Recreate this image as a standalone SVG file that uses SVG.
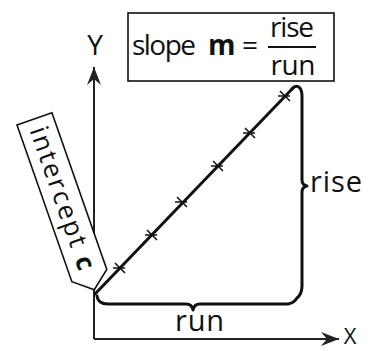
<svg xmlns="http://www.w3.org/2000/svg" width="372" height="351" viewBox="0 0 372 351">
<defs>
<marker id="arr" markerUnits="userSpaceOnUse" markerWidth="20" markerHeight="16" refX="18" refY="7" orient="auto">
<path d="M0,0 L18,7 L0,14 L6,7 Z" fill="#222"/>
</marker>
<style>
.t{font-family:"Open Sans","DejaVu Sans",sans-serif;fill:#111}
.ax{stroke:#222;stroke-width:2;fill:none}
.br{stroke:#111;stroke-width:3;fill:none;stroke-linecap:round;stroke-linejoin:round}
.tk{stroke:#111;stroke-width:1.5;fill:none}
.box{fill:#fff;stroke:#111;stroke-width:1.6}
</style>
</defs>
<rect width="372" height="351" fill="#fff"/>
<g id="connectors">
<line class="ax" x1="94" y1="339" x2="94" y2="67" marker-end="url(#arr)"/>
<line class="ax" x1="94" y1="339" x2="339" y2="339" marker-end="url(#arr)"/>
<line x1="95" y1="294" x2="293" y2="88" stroke="#111" stroke-width="3" stroke-linecap="round"/>
<path class="br" d="M292 89 C296 84 302 86 302 96 L302 180 Q302 185 307 186 Q302 187 302 192 L302 286 Q302 294 297 298 Q294 303 288 304 L200 304 Q194 304 193 310 Q192 304 186 304 L108 304 Q98 304 97 296"/>
<g class="tk">
<path d="M115 263 l10 10 M113 268 h12"/>
<path d="M147 230 l10 10 M145 235 h12"/>
<path d="M177 197 l10 10 M175 202 h12"/>
<path d="M213 161 l10 10 M211 166 h12"/>
<path d="M245 128 l10 10 M243 133 h12"/>
<path d="M280 91 l10 10 M278 96 h12"/>
</g>
</g>
<g id="axis-y-label"><text class="t" x="95" y="55" font-size="28" text-anchor="middle">Y</text></g>
<g id="axis-x-label"><text class="t" x="350" y="344" font-size="22" text-anchor="middle">X</text></g>
<g id="slope-box">
<rect class="box" x="128" y="13" width="206" height="68"/>
<text class="t" font-size="28" y="55"><tspan x="132" textLength="64">slope</tspan><tspan x="208" font-weight="bold">m</tspan><tspan x="242">=</tspan></text>
<text class="t" font-size="28" x="292" y="37" text-anchor="middle" textLength="44">rise</text>
<line x1="268" y1="47" x2="316" y2="47" stroke="#111" stroke-width="2"/>
<text class="t" font-size="28" x="293" y="75" text-anchor="middle" textLength="45">run</text>
</g>
<g id="intercept-tag" transform="translate(17 125) rotate(70.7)">
<polygon points="0,0 0,-37 166,-37 181,-18.5 166,0" fill="#fff" stroke="#111" stroke-width="1.6"/>
<text class="t" x="9" y="-10" font-size="26" textLength="150" lengthAdjust="spacing">intercept <tspan font-weight="bold">c</tspan></text>
</g>
<g id="rise-label"><text class="t" x="310" y="192" font-size="29" textLength="52">rise</text></g>
<g id="run-label"><text class="t" x="175" y="331" font-size="29" textLength="49">run</text></g>
</svg>
